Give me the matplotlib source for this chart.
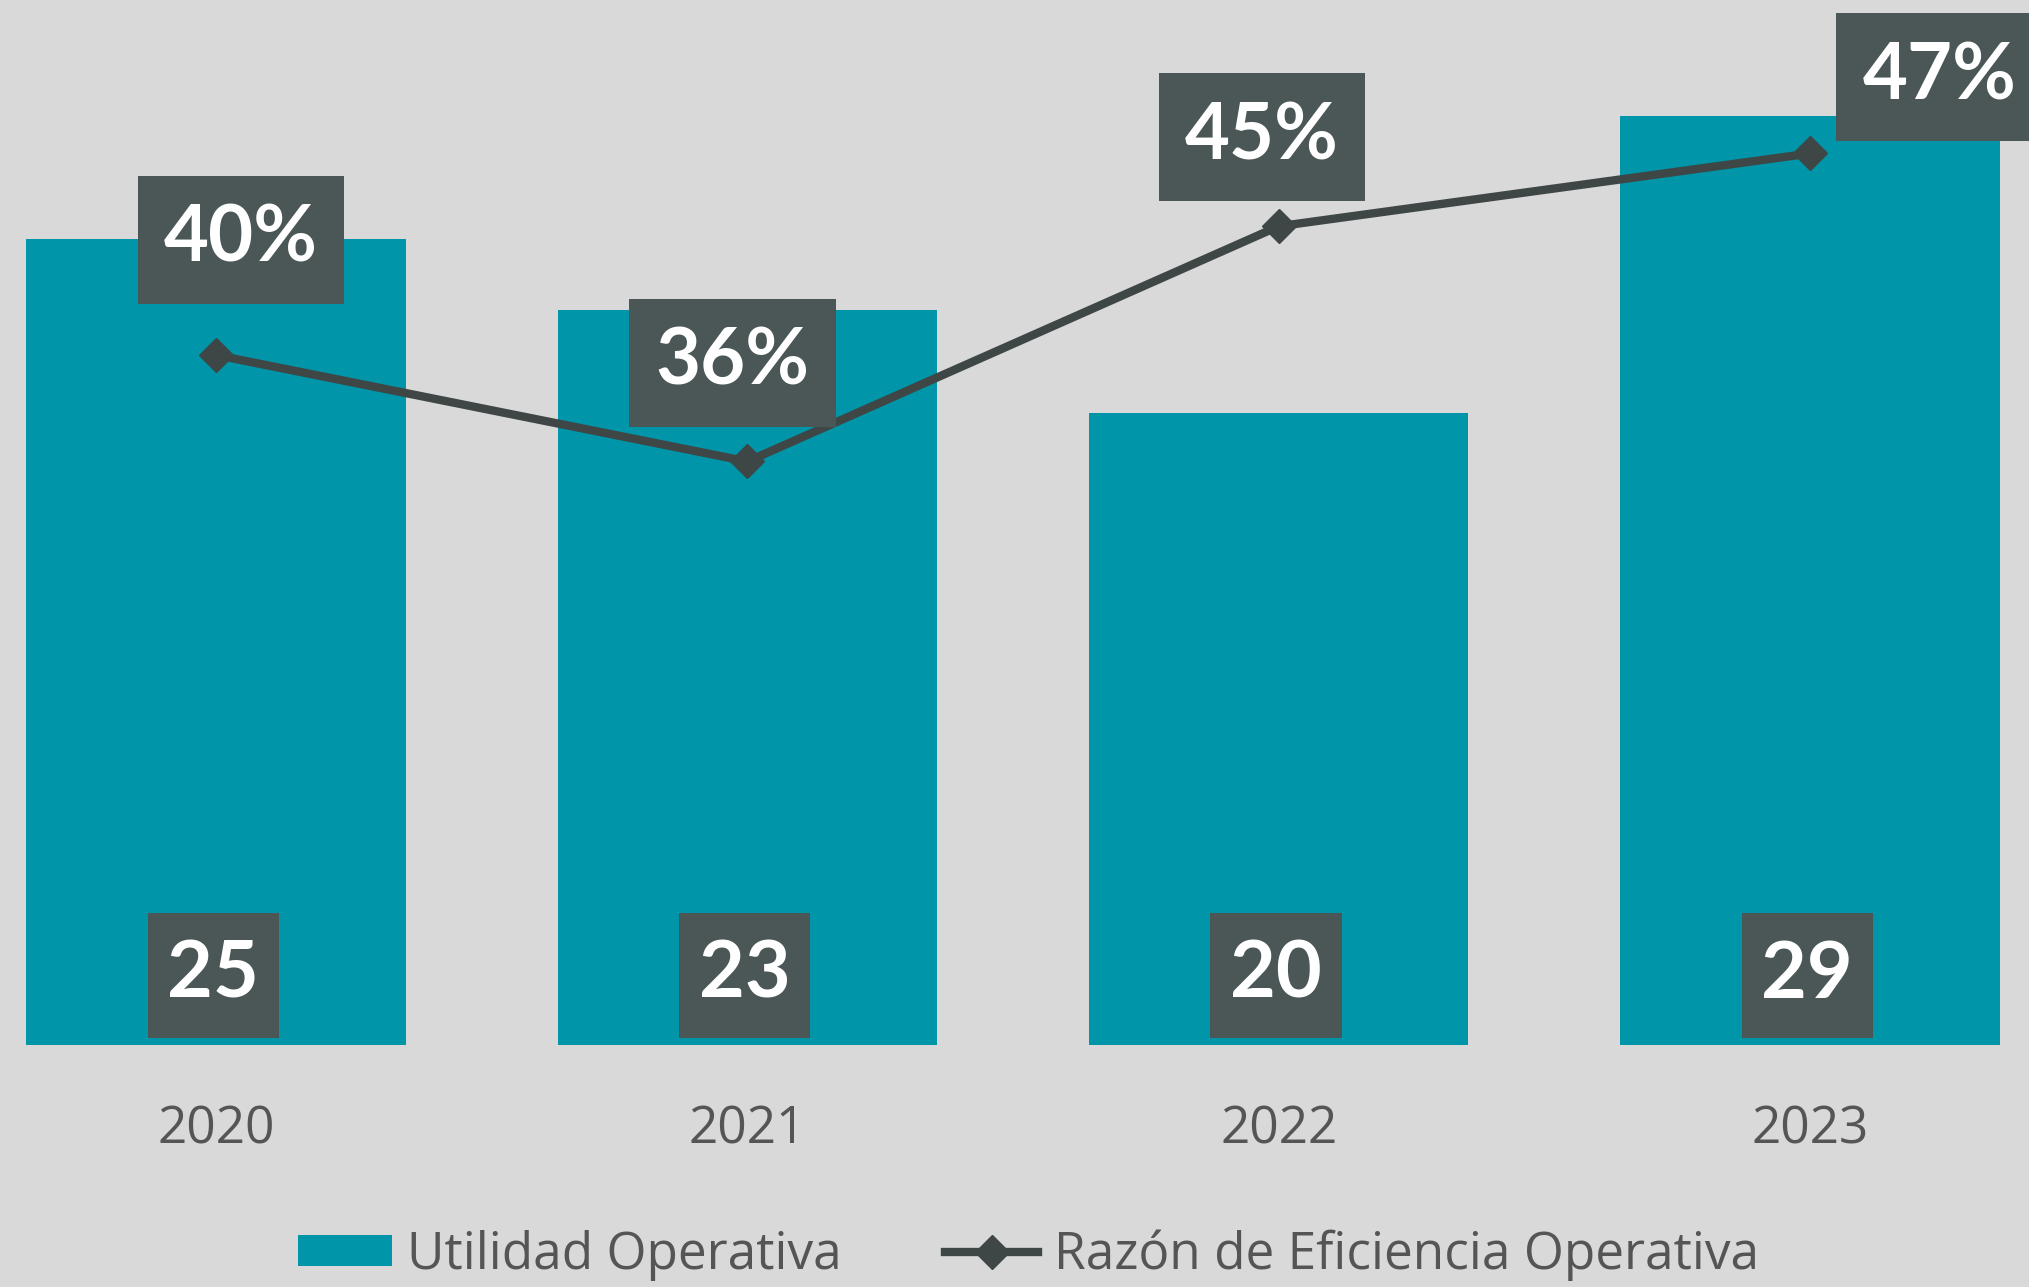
import matplotlib
matplotlib.use("Agg")
from matplotlib import pyplot as plt

# datos
years = ["2020", "2021", "2022", "2023"]
utilidad = [25.0, 22.8, 19.6, 28.8]
eficiencia = [40.0, 36.2, 44.6, 47.2]

bg = "#d9d9d9"
teal = "#0095a8"
box_gray = "#4b5656"
line_gray = "#3f4646"

# desplazamiento de las etiquetas de porcentaje (puntos)
pct_offsets = [(18, 83), (-11, 71), (-12, 64), (93, 55)]

fig = plt.figure(figsize=(20.29, 12.87), dpi=100, facecolor=bg)
ax = fig.add_axes([0, 0.188, 1, 0.812])
ax.set_facecolor(bg)

x = range(len(years))
ax.bar(x, utilidad, width=0.714, color=teal, label="Utilidad Operativa", zorder=2)
ax.set_xlim(-0.4066, 3.412)
ax.set_ylim(0, 32.41)
ax.set_xticks(list(x))
ax.set_xticklabels(years, fontsize=37, color="#555555", family="Open Sans")
ax.tick_params(axis="x", length=0, pad=43)
ax.set_yticks([])
for s in ax.spines.values():
    s.set_visible(False)

for i, v in enumerate(utilidad):
    ax.annotate(f"{v:.0f}", xy=(i, 0), xytext=(-2, 50), textcoords="offset points",
                ha="center", va="center", fontsize=57, color="white",
                family="Lato", weight="bold", zorder=5,
                bbox=dict(boxstyle="square,pad=0.25", fc=box_gray, ec="none",
                          mutation_aspect=1.32))

ax2 = ax.twinx()
ax2.set_ylim(15.36, 52.68)
ax2.set_yticks([])
for s in ax2.spines.values():
    s.set_visible(False)
ax2.plot(list(x), eficiencia, color=line_gray, lw=6, marker="D", markersize=17,
         label="Razón de Eficiencia Operativa", zorder=3)

for i, v in enumerate(eficiencia):
    ax2.annotate(f"{v:.0f}%", xy=(i, v), xytext=pct_offsets[i], textcoords="offset points",
                 ha="center", va="center", fontsize=56, color="white",
                 family="Lato", weight="bold", zorder=6,
                 bbox=dict(boxstyle="square,pad=0.34", fc=box_gray, ec="none",
                           mutation_aspect=1.06))

h1, l1 = ax.get_legend_handles_labels()
h2, l2 = ax2.get_legend_handles_labels()
leg = fig.legend(h1 + h2, l1 + l2, loc="center", bbox_to_anchor=(0.507, 0.025), ncol=2,
                 frameon=False, handlelength=1.82, handleheight=0.55,
                 handletextpad=0.3, columnspacing=2.0,
                 prop={"family": "Open Sans", "size": 37})
for t in leg.get_texts():
    t.set_color("#555555")

fig.savefig("out.png", dpi=100, facecolor=bg)
